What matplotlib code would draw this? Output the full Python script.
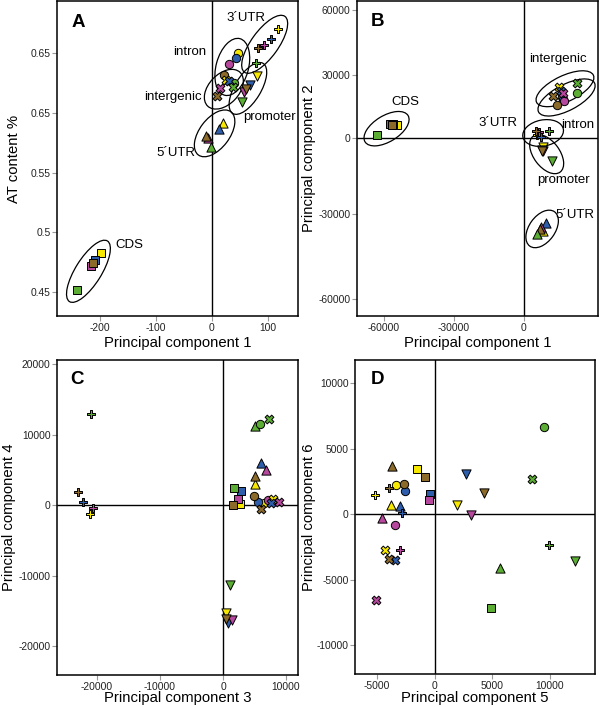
import numpy as np
import matplotlib
matplotlib.use("Agg")
import matplotlib.pyplot as plt
from matplotlib.patches import Ellipse
from matplotlib.transforms import IdentityTransform

plt.rcParams['font.family'] = ['Liberation Sans', 'DejaVu Sans']
plt.rcParams['axes.unicode_minus'] = False

# ---------------- data ----------------
regions = ["CDS", "5´UTR", "promoter", "intron", "intergenic", "3´UTR"]
sources = ["yellow", "blue", "magenta", "brown", "green"]

# panel A : PC1 vs AT content (rows = regions, columns = sources)
A_x = [[-199, -209, -216, -212, -241],
       [20, 12, -7, -10, -2],
       [80, 69, 57, 61, 53],
       [46, 44, 30, 21, 40],
       [25, 30, 14, 10, 38],
       [118, 106, 94, 82, 78]]
A_y = [[0.4826, 0.4770, 0.4722, 0.4745, 0.4519],
       [0.5914, 0.5866, 0.5789, 0.5809, 0.5718],
       [0.6313, 0.6235, 0.6179, 0.6200, 0.6090],
       [0.6508, 0.6463, 0.6408, 0.6318, 0.6250],
       [0.6280, 0.6271, 0.6207, 0.6143, 0.6220],
       [0.6709, 0.6620, 0.6575, 0.6547, 0.6421]]

# panel B : PC1 vs PC2
B_x = [[-54200, -55800, -57300, -56500, -62700],
       [8400, 9560, 7290, 7000, 5830],
       [8140, 8000, 8140, 8000, 12000],
       [16300, 16700, 17400, 14400, 22970],
       [15260, 15860, 17000, 12690, 22970],
       [5830, 7290, 6690, 5270, 10970]]
B_y = [[6500, 6600, 6650, 6500, 1500],
       [-36200, -33300, -34700, -35500, -37300],
       [-3300, -4500, -5160, -5000, -9000],
       [19500, 18600, 17500, 15900, 21300],
       [24100, 22560, 21300, 20200, 26000],
       [1700, 800, 2840, 3300, 3640]]

# panel C : PC3 vs PC4
C_x = [[2740, 2900, 2370, 1520, 1680],
       [5110, 6060, 6800, 5000, 5110],
       [520, 790, 1420, 410, 1150],
       [6500, 5630, 7120, 4900, 5900],
       [8000, 7600, 8900, 6060, 7370],
       [-21100, -22150, -20560, -23000, -21000]]
C_y = [[100, 1990, 810, 0, 2460],
       [2940, 6020, 4930, 4120, 11230],
       [-15310, -16740, -16260, -16110, -11380],
       [300, 470, 760, 1280, 11470],
       [810, 300, 470, -610, 12190],
       [-1240, 470, -470, 1890, 12900]]

# panel D : PC5 vs PC6
D_x = [[-1530, -370, -490, -840, 4860],
       [-3750, -3030, -4530, -3700, 5640],
       [1970, 2690, 3180, 4270, 12140],
       [-3320, -2600, -3470, -2690, 9480],
       [-4330, -3410, -5050, -3960, 8440],
       [-5180, -2830, -3030, -3960, 9910]]
D_y = [[3460, 1560, 1050, 2820, -7140],
       [720, 610, -300, 3640, -4090],
       [720, 3080, -100, 1630, -3590],
       [2190, 1730, -860, 2320, 6640],
       [-2770, -3480, -6580, -3400, 2700],
       [1480, 80, -2770, 2010, -2390]]

A_yticks = [0.45, 0.5, 0.55, 0.6, 0.65]
A_yticklabels = ["0.45", "0.5", "0.55", "0.65", "0.65"]
A_xticks = [-200, -100, 0, 100]
B_ticks = [-60000, -30000, 0, 30000, 60000]
B_xticks = [-60000, -30000, 0]
C_xticks = [-20000, -10000, 0, 10000]
C_yticks = [-20000, -10000, 0, 10000, 20000]
D_xticks = [-5000, 0, 5000, 10000]
D_yticks = [-10000, -5000, 0, 5000, 10000]

# ---------------- style ----------------
source_colors = ["#f6e800", "#2e5dac", "#b5489c", "#8c6a2a", "#5cad34"]
region_markers = ["s", "^", "v", "o", "X", "P"]
marker_sizes = [36, 44, 44, 36, 40, 40]

W, H = 600, 707
fig = plt.figure(figsize=(W / 100, H / 100), dpi=100)


def add_axes_px(left, top, right, bottom):
    return fig.add_axes([left / W, 1 - bottom / H, (right - left) / W, (bottom - top) / H])


def style_axes(ax):
    for s in ax.spines.values():
        s.set_linewidth(1.1)
        s.set_color("black")
    ax.tick_params(direction="out", length=3.5, width=0.8, color="#999999",
                   labelsize=7.4, pad=1.2, labelcolor="#222222")


def draw_points(ax, X, Y):
    for r in range(len(regions)):
        for s in range(len(sources)):
            ax.scatter(X[r][s], Y[r][s], s=marker_sizes[r], marker=region_markers[r],
                       c=source_colors[s], edgecolors="black", linewidths=0.7, zorder=3)


def group_ellipse(ax, xs, ys, pad_major=14, pad_minor=10, min_minor=13):
    pts = ax.transData.transform(np.column_stack([xs, ys]))
    c = pts.mean(0)
    d = pts - c
    w, v = np.linalg.eigh(d.T @ d)
    major, minor = v[:, 1], v[:, 0]
    pm, pn = d @ major, d @ minor
    mid = c + major * (pm.max() + pm.min()) / 2 + minor * (pn.max() + pn.min()) / 2
    a = (pm.max() - pm.min()) / 2 + pad_major
    b = max((pn.max() - pn.min()) / 2 + pad_minor, min_minor)
    ang = np.degrees(np.arctan2(major[1], major[0]))
    ax.add_patch(Ellipse(mid, 2 * a, 2 * b, angle=ang, transform=IdentityTransform(),
                         fill=False, ec="black", lw=0.9, zorder=2))
    return c  # display coords of centroid


def label_group(c, text, dx, dy):
    # dx, dy in pixels (dy positive = downwards)
    fig.text((c[0] + dx) / W, (c[1] - dy) / H, text, ha="center", va="center", fontsize=9.5)


def panel_letter(x_px, base_px, letter):
    fig.text(x_px / W, 1 - base_px / H, letter, ha="center", va="baseline",
             fontsize=13.5, fontweight="bold")


# ---------------- panel A ----------------
axA = add_axes_px(57, 1, 298, 316)
style_axes(axA)
axA.set_xlim(-277, 154)
axA.set_ylim(0.430, 0.694)
axA.set_xticks(A_xticks)
axA.set_yticks(A_yticks)
axA.set_yticklabels(A_yticklabels)
axA.axvline(0, color="black", lw=1.0, zorder=1)
draw_points(axA, A_x, A_y)
A_label_offsets = {"CDS": (38, -21), "5´UTR": (-37, 18), "promoter": (22, 28),
                   "intron": (-42, -15), "intergenic": (-52, 11), "3´UTR": (-19, -27)}
for r, name in enumerate(regions):
    c = group_ellipse(axA, A_x[r], A_y[r])
    label_group(c, name, *A_label_offsets[name])
axA.set_xlabel("Principal component 1", fontsize=10.7)
axA.set_ylabel("AT content %", fontsize=10.7)
axA.xaxis.set_label_coords(0.5, -0.062)
axA.yaxis.set_label_coords(-0.149, 0.5)
panel_letter(78.5, 27, "A")

# ---------------- panel B ----------------
# the y axis of the source figure is not evenly spaced; emulate it piecewise
B_tick_px = np.array([298.7, 213.3, 137.7, 74.3, 9.3])
_bv = np.array(B_ticks, float)
_bp = -B_tick_px


def _pw(v, xs, ys):
    v = np.asarray(v, float)
    out = np.interp(v, xs, ys)
    lo = v < xs[0]
    hi = v > xs[-1]
    out = np.where(lo, ys[0] + (v - xs[0]) * (ys[1] - ys[0]) / (xs[1] - xs[0]), out)
    out = np.where(hi, ys[-1] + (v - xs[-1]) * (ys[-1] - ys[-2]) / (xs[-1] - xs[-2]), out)
    return out


axB = add_axes_px(357, 1, 598, 316)
style_axes(axB)
axB.set_yscale("function", functions=(lambda v: _pw(v, _bv, _bp), lambda p: _pw(p, _bp, _bv)))
axB.set_xlim(-71400, 31800)
axB.set_ylim(-66100, 64300)
axB.set_xticks(B_xticks)
axB.set_yticks(B_ticks)
axB.set_yticklabels([str(t) for t in B_ticks])
axB.set_xticklabels([str(t) for t in B_xticks])
axB.minorticks_off()
axB.axvline(0, color="black", lw=1.0, zorder=1)
axB.axhline(0, color="black", lw=1.0, zorder=1)
draw_points(axB, B_x, B_y)
B_label_offsets = {"CDS": (15, -25), "5´UTR": (33, -14), "promoter": (19, 28),
                   "intron": (13, 26), "intergenic": (-5, -31), "3´UTR": (-43, -10)}
B_ellipse_pads = {"intron": dict(pad_major=20, pad_minor=9),
                  "intergenic": dict(pad_major=18, pad_minor=9)}
for r, name in enumerate(regions):
    c = group_ellipse(axB, B_x[r], B_y[r], **B_ellipse_pads.get(name, {}))
    label_group(c, name, *B_label_offsets[name])
axB.set_xlabel("Principal component 1", fontsize=10.7)
axB.set_ylabel("Principal component 2", fontsize=10.7)
axB.xaxis.set_label_coords(0.5, -0.062)
axB.yaxis.set_label_coords(-0.170, 0.5)
panel_letter(377.7, 26, "B")

# ---------------- panel C ----------------
axC = add_axes_px(57, 360, 298, 675)
style_axes(axC)
axC.set_xlim(-26350, 11900)
axC.set_ylim(-24100, 20570)
axC.set_xticks(C_xticks)
axC.set_yticks(C_yticks)
axC.set_xticklabels([str(t) for t in C_xticks])
axC.set_yticklabels([str(t) for t in C_yticks])
axC.axvline(0, color="black", lw=1.0, zorder=1)
axC.axhline(0, color="black", lw=1.0, zorder=1)
draw_points(axC, C_x, C_y)
axC.set_xlabel("Principal component 3", fontsize=10.7)
axC.set_ylabel("Principal component 4", fontsize=10.7)
axC.xaxis.set_label_coords(0.5, -0.050)
axC.yaxis.set_label_coords(-0.170, 0.5)
panel_letter(76.7, 383.5, "C")

# ---------------- panel D ----------------
axD = add_axes_px(355, 360, 595, 674)
style_axes(axD)
axD.set_xlim(-6900, 13900)
axD.set_ylim(-12210, 11760)
axD.set_xticks(D_xticks)
axD.set_yticks(D_yticks)
axD.set_xticklabels([str(t) for t in D_xticks])
axD.set_yticklabels([str(t) for t in D_yticks])
axD.axvline(0, color="black", lw=1.0, zorder=1)
axD.axhline(0, color="black", lw=1.0, zorder=1)
draw_points(axD, D_x, D_y)
axD.set_xlabel("Principal component 5", fontsize=10.7)
axD.set_ylabel("Principal component 6", fontsize=10.7)
axD.xaxis.set_label_coords(0.5, -0.053)
axD.yaxis.set_label_coords(-0.1625, 0.5)
panel_letter(377.5, 384.5, "D")

fig.savefig("out.png", dpi=100)
